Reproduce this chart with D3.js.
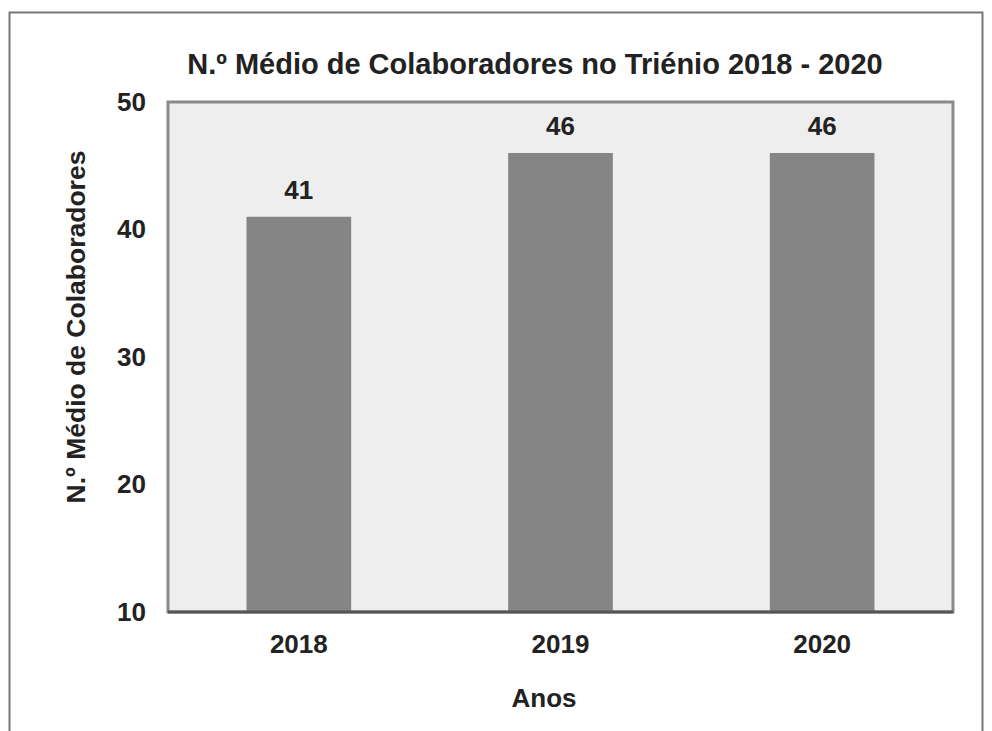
<!DOCTYPE html>
<html><head><meta charset="utf-8">
<script src="https://cdn.jsdelivr.net/npm/d3@7"></script>
<style>body{margin:0;background:#fff;} text{font-family:"Liberation Sans",Arial,sans-serif;font-weight:bold;fill:#222;}</style>
</head><body>
<svg id="c" width="992" height="731"></svg>
<script>
const categories = ["2018","2019","2020"];
const values = [41,46,46];
const yTicks = [10,20,30,40,50];
const title = "N.º Médio de Colaboradores no Triénio 2018 - 2020";
const yTitle = "N.º Médio de Colaboradores";
const xTitle = "Anos";

const svg = d3.select("#c");
// outer frame
svg.append("rect").attr("x",9.5).attr("y",12.5).attr("width",973).attr("height",730)
  .attr("fill","#fff").attr("stroke","#777").attr("stroke-width",2);

const L=168, R=953, T=102, B=612;
const x = d3.scaleBand().domain(categories).range([L,R]).paddingInner(0.6).paddingOuter(0.3);
const y = d3.scaleLinear().domain([10,50]).range([B,T]);

svg.append("rect").attr("x",L).attr("y",T).attr("width",R-L).attr("height",B-T)
  .attr("fill","#eeeeee").attr("stroke","#8a8a8a").attr("stroke-width",3);

svg.selectAll(".bar").data(values).join("rect")
  .attr("x",(d,i)=>x(categories[i])).attr("y",d=>y(d))
  .attr("width",x.bandwidth()).attr("height",d=>B-y(d)).attr("fill","#858585");

svg.append("line").attr("x1",L).attr("x2",R).attr("y1",B).attr("y2",B).attr("stroke","#555").attr("stroke-width",3);

svg.selectAll(".vl").data(values).join("text")
  .attr("x",(d,i)=>x(categories[i])+x.bandwidth()/2).attr("y",d=>y(d)-18)
  .attr("text-anchor","middle").attr("font-size",26).text(d=>d);

const yAxis = svg.append("g").attr("transform",`translate(${L},0)`)
  .call(d3.axisLeft(y).tickValues(yTicks).tickSize(0).tickPadding(22));
yAxis.select(".domain").remove();
yAxis.selectAll("text").attr("font-size",26).style("font-family","Liberation Sans, Arial").style("font-weight","bold").attr("fill","#222");

const xAxis = svg.append("g").attr("transform",`translate(0,${B})`)
  .call(d3.axisBottom(x).tickSize(0).tickPadding(23));
xAxis.select(".domain").remove();
xAxis.selectAll("text").attr("font-size",26).style("font-family","Liberation Sans, Arial").style("font-weight","bold").attr("fill","#222");

svg.append("text").attr("x",535).attr("y",74).attr("text-anchor","middle").attr("font-size",29).text(title);
svg.append("text").attr("transform","translate(85,327) rotate(-90)").attr("text-anchor","middle").attr("font-size",26.5).text(yTitle);
svg.append("text").attr("x",544).attr("y",707).attr("text-anchor","middle").attr("font-size",26).text(xTitle);
</script>
</body></html>
